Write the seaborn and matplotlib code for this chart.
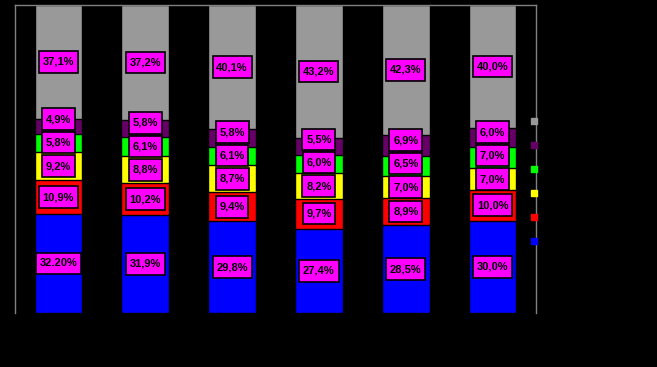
import matplotlib
matplotlib.use("Agg")
import matplotlib.pyplot as plt
import seaborn as sns
import numpy as np
from matplotlib.lines import Line2D
from matplotlib.path import Path

categories = ["1", "2", "3", "4", "5", "6"]
blue = [32.2, 31.9, 29.8, 27.4, 28.5, 30.0]
red = [10.9, 10.2, 9.4, 9.7, 8.9, 10.0]
yellow = [9.2, 8.8, 8.7, 8.2, 7.0, 7.0]
green = [5.8, 6.1, 6.1, 6.0, 6.5, 7.0]
purple = [4.9, 5.8, 5.8, 5.5, 6.9, 6.0]
gray = [37.1, 37.2, 40.1, 43.2, 42.3, 40.0]

blue_labels = ["32.20%", "31,9%", "29,8%", "27,4%", "28,5%", "30,0%"]
red_labels = ["10,9%", "10,2%", "9,4%", "9,7%", "8,9%", "10,0%"]
yellow_labels = ["9,2%", "8,8%", "8,7%", "8,2%", "7,0%", "7,0%"]
green_labels = ["5,8%", "6,1%", "6,1%", "6,0%", "6,5%", "7,0%"]
purple_labels = ["4,9%", "5,8%", "5,8%", "5,5%", "6,9%", "6,0%"]
gray_labels = ["37,1%", "37,2%", "40,1%", "43,2%", "42,3%", "40,0%"]

series = [blue, red, yellow, green, purple, gray]
labels = [blue_labels, red_labels, yellow_labels, green_labels, purple_labels, gray_labels]
colors = ["#0000FF", "#FF0000", "#FFFF00", "#00FF00", "#660066", "#999999"]

sns.set_style("dark")
plt.rcParams["font.family"] = ["Liberation Sans", "DejaVu Sans"]


def label_box(x0, y0, width, height, mutation_size):
    px = 0.34 * mutation_size
    py = 0.52 * mutation_size
    verts = [(x0 - px, y0 - py), (x0 + width + px, y0 - py),
             (x0 + width + px, y0 + height + py), (x0 - px, y0 + height + py),
             (x0 - px, y0 - py)]
    codes = [Path.MOVETO, Path.LINETO, Path.LINETO, Path.LINETO, Path.CLOSEPOLY]
    return Path(verts, codes)


fig = plt.figure(figsize=(6.57, 3.67), dpi=100, facecolor="black")
ax = fig.add_axes([15 / 657, 54 / 367, 521 / 657, 308 / 367])
ax.set_facecolor("black")

vals = np.array(series)
cum = np.cumsum(vals, axis=0)

for k in range(len(series) - 1, -1, -1):
    sns.barplot(x=categories, y=cum[k], color=colors[k], saturation=1,
                width=0.55, edgecolor="black", linewidth=1, ax=ax)

ax.set_xlim(-0.5, 5.5)
ax.set_ylim(0, 100)
ax.set_xticks([])
ax.set_yticks([])
ax.set_xlabel("")
ax.set_ylabel("")
ax.grid(False)
for side in ["left", "top", "right"]:
    ax.spines[side].set_visible(True)
    ax.spines[side].set_color("#808080")
    ax.spines[side].set_linewidth(1)
ax.spines["bottom"].set_visible(False)

h = 7.6
for i in range(len(categories)):
    prev = -100
    bottom = 0.0
    for k in range(len(series)):
        v = vals[k, i]
        c = bottom + v / 2
        if k < len(series) - 1:
            c = max(c, prev + h)
        prev = c
        bottom += v
        ax.text(i, c, labels[k][i], ha="center", va="center", fontsize=8,
                fontweight="bold", color="black",
                bbox=dict(boxstyle=label_box, fc="#FF00FF", ec="black", lw=1.2))

handles = [Line2D([], [], marker="s", linestyle="none", markersize=4.5,
                  markerfacecolor=colors[k], markeredgecolor=colors[k])
           for k in range(len(series) - 1, -1, -1)]
leg = fig.legend(handles, [""] * 6, loc="center", bbox_to_anchor=(534 / 657, 1 - 182 / 367),
                 frameon=False, handlelength=0.6, handletextpad=0.0,
                 labelspacing=1.25, fontsize=8, borderpad=0)

fig.savefig("out.png", dpi=100, facecolor="black")
